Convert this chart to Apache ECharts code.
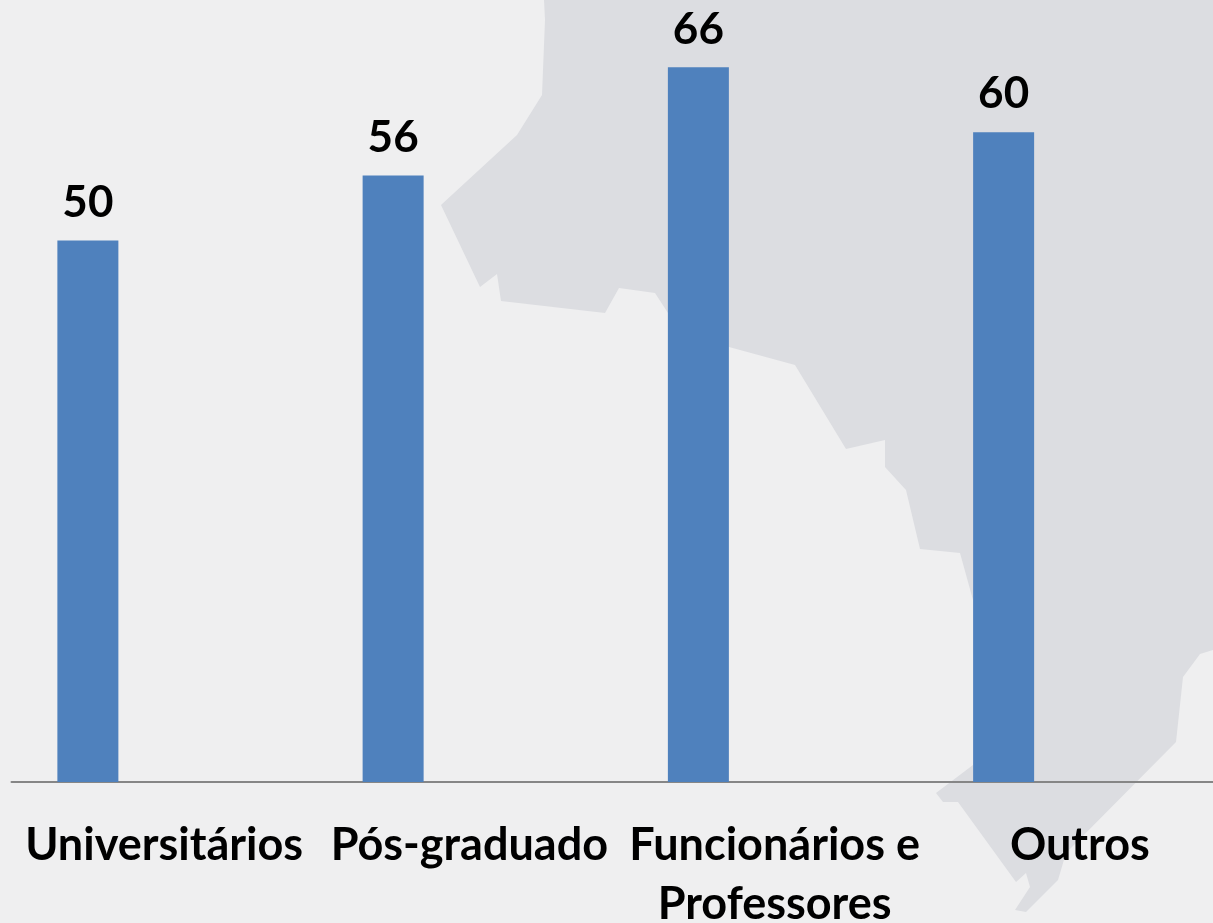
<!DOCTYPE html>
<html>
<head>
<meta charset="utf-8">
<style>
    html, body { margin: 0; padding: 0; background: #EFEFF0; }
    #barChart { width: 1213px; height: 923px; }
</style>
<script src="https://cdn.jsdelivr.net/npm/echarts@6/dist/echarts.min.js"></script>
</head>
<body>
<div id="barChart"></div>
<script>
const categories = ['Universitários', 'Pós-graduado', 'Funcionários e\nProfessores', 'Outros'];
const values = [50, 56, 66, 60];
// series 2 and 3 are empty in the source chart, they only reserve room in the cluster
const emptySeries = [null, null, null, null];

// background map outline
const mapOutline = [
    [544,0],[545,20],[542,95],[517,135],[441,205],[480,287],[497,274],[501,301],[605,313],
    [619,288],[655,293],[668,313],[729,347],[795,365],[846,449],[885,440],[885,467],[906,490],
    [920,549],[960,553],[973,600],[973,765],[936,793],[943,802],[958,802],[1016,882],[1026,873],
    [1030,887],[1015,910],[1026,912],[1058,880],[1066,853],[1176,742],[1183,677],[1200,654],
    [1213,650],[1213,0]
];

const fontFamily = 'Lato, "Open Sans", sans-serif';

const chartOption = {
    backgroundColor: '#EFEFF0',
    animation: false,
    grid: { left: 11.5, top: 24, width: 1221, bottom: 141, outerBoundsMode: 'none' },
    graphic: [
        {
            type: 'polygon',
            z: -10,
            shape: { points: mapOutline },
            style: { fill: '#DCDDE1' }
        }
    ],
    xAxis: {
        type: 'category',
        data: categories,
        axisTick: { show: false },
        axisLine: { show: true, lineStyle: { color: '#868686', width: 2 } },
        axisLabel: {
            color: '#000000',
            fontSize: 45,
            fontWeight: 'bold',
            fontFamily: fontFamily,
            lineHeight: 59,
            margin: 34,
            interval: 0,
            hideOverlap: false
        }
    },
    yAxis: {
        type: 'value',
        min: 0,
        max: 70,
        show: false,
        splitLine: { show: false }
    },
    series: [
        {
            name: 'Série 1',
            type: 'bar',
            data: values,
            barWidth: 61,
            barGap: '25%',
            itemStyle: { color: '#4F81BD' },
            label: {
                show: true,
                position: 'top',
                distance: 16,
                color: '#000000',
                fontSize: 44,
                fontWeight: 'bold',
                fontFamily: fontFamily
            }
        },
        { name: 'Série 2', type: 'bar', data: emptySeries, barWidth: 61 },
        { name: 'Série 3', type: 'bar', data: emptySeries, barWidth: 61 }
    ]
};

echarts.init(document.getElementById('barChart')).setOption(chartOption);
</script>
</body>
</html>
